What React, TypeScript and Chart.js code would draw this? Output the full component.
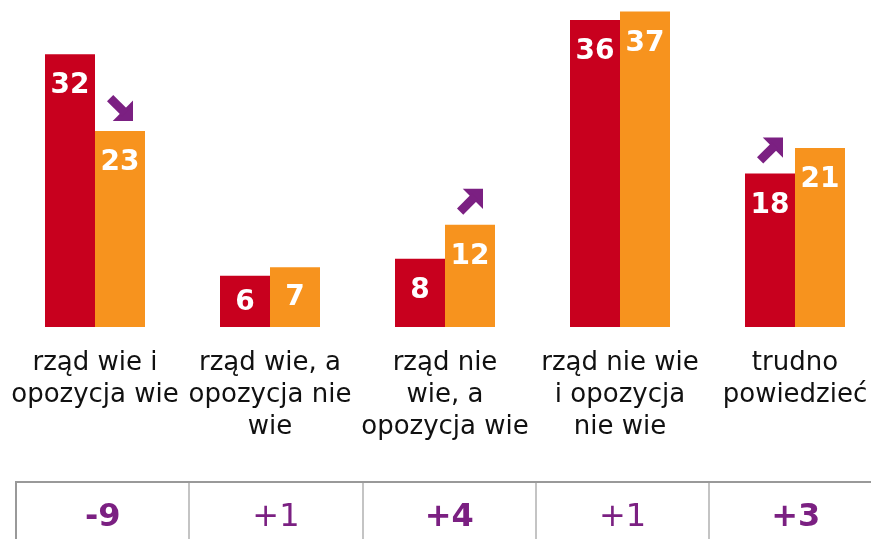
import React, { useEffect, useRef } from "react";
import { Chart, registerables } from "chart.js";

Chart.register(...registerables);

const categories: string[][] = [
  ["rząd wie i", "opozycja wie"],
  ["rząd wie, a", "opozycja nie", "wie"],
  ["rząd nie", "wie, a", "opozycja wie"],
  ["rząd nie wie", "i opozycja", "nie wie"],
  ["trudno", "powiedzieć"],
];
const previousValues = [32, 6, 8, 36, 18];
const currentValues = [23, 7, 12, 37, 21];
const arrowDirections: (string | null)[] = ["down", null, "up", null, "up"];
const arrowSeries: (number | null)[] = [1, null, 1, null, 0];
const differenceLabels = ["-9", "+1", "+4", "+1", "+3"];
const differenceBold = [true, false, true, false, true];

const RED = "#C8001E";
const ORANGE = "#F7931E";
const PURPLE = "#7B2082";
const FONT = "'DejaVu Sans', Verdana, sans-serif";

const valueLabelPlugin = {
  id: "valueLabels",
  afterDatasetsDraw(chart: any) {
    const ctx = chart.ctx;
    ctx.save();
    ctx.fillStyle = "#FFFFFF";
    ctx.font = `bold 28px ${FONT}`;
    ctx.textAlign = "center";
    ctx.textBaseline = "middle";
    chart.data.datasets.forEach((ds: any, di: number) => {
      const meta = chart.getDatasetMeta(di);
      meta.data.forEach((bar: any, i: number) => {
        const top = bar.y;
        const base = bar.base;
        const y = Math.min(top + 31, (top + base) / 2);
        ctx.fillText(String(ds.data[i]), bar.x, y + 1);
      });
    });
    ctx.restore();
  },
};

const arrowPlugin = {
  id: "trendArrows",
  afterDatasetsDraw(chart: any) {
    const ctx = chart.ctx;
    ctx.save();
    ctx.fillStyle = PURPLE;
    ctx.strokeStyle = PURPLE;
    arrowDirections.forEach((dir, i) => {
      const s = arrowSeries[i];
      if (!dir || s === null) return;
      const bar: any = chart.getDatasetMeta(s).data[i];
      const size = 26;
      const cx = bar.x;
      const bottom = bar.y - 10;
      const left = cx - size / 2;
      const top = bottom - size;
      const P = (u: number, v: number): [number, number] => {
        if (dir === "up") return [left + u * size, top + v * size];
        return [left + u * size, top + (1 - v) * size];
      };
      ctx.beginPath();
      let p = P(0.22, 0);
      ctx.moveTo(p[0], p[1]);
      p = P(1, 0);
      ctx.lineTo(p[0], p[1]);
      p = P(1, 0.78);
      ctx.lineTo(p[0], p[1]);
      ctx.closePath();
      ctx.fill();
      ctx.beginPath();
      ctx.lineWidth = size * 0.34;
      ctx.lineCap = "butt";
      p = P(0.12, 0.88);
      ctx.moveTo(p[0], p[1]);
      p = P(0.7, 0.3);
      ctx.lineTo(p[0], p[1]);
      ctx.stroke();
    });
    ctx.restore();
  },
};

export default function App() {
  const canvasRef = useRef<HTMLCanvasElement | null>(null);

  useEffect(() => {
    if (!canvasRef.current) return;
    const chart = new Chart(canvasRef.current, {
      type: "bar",
      data: {
        labels: categories,
        datasets: [
          {
            label: "poprzedni pomiar",
            data: previousValues,
            backgroundColor: RED,
            borderWidth: 0,
            categoryPercentage: 100 / 175,
            barPercentage: 1,
          },
          {
            label: "obecny pomiar",
            data: currentValues,
            backgroundColor: ORANGE,
            borderWidth: 0,
            categoryPercentage: 100 / 175,
            barPercentage: 1,
          },
        ],
      },
      options: {
        responsive: false,
        animation: false,
        layout: { padding: { left: 7.5, right: 17.5, top: 3, bottom: 0 } },
        plugins: {
          legend: { display: false },
          tooltip: { enabled: false },
          title: { display: false },
        },
        scales: {
          y: { display: false, min: 0, max: 38 },
          x: {
            grid: { display: false, drawTicks: false },
            border: { display: false },
            ticks: {
              color: "#111111",
              font: { family: FONT, size: 26, lineHeight: 1.24 },
              padding: 20,
              maxRotation: 0,
              minRotation: 0,
              autoSkip: false,
            },
            afterFit(scale: any) {
              scale.height = 212;
              scale.paddingLeft = 0;
              scale.paddingRight = 0;
            },
          },
        },
      },
      plugins: [valueLabelPlugin, arrowPlugin],
    });
    return () => chart.destroy();
  }, []);

  return (
    <div
      style={{
        position: "fixed",
        left: 0,
        top: 0,
        width: 871,
        height: 539,
        overflow: "hidden",
        background: "#fff",
      }}
    >
      <canvas
        ref={canvasRef}
        width={900}
        height={539}
        style={{ display: "block", position: "absolute", left: 0, top: 0 }}
      />
      <div
        style={{
          position: "absolute",
          left: 15,
          top: 481,
          width: 5 * 173.3,
          height: 70,
          borderTop: "2px solid #999",
          display: "flex",
        }}
      >
        {differenceLabels.map((t, i) => (
          <div
            key={i}
            style={{
              width: 173.3,
              height: 70,
              boxSizing: "border-box",
              borderLeft: i === 0 ? "2px solid #999" : "2px solid #c4c4c4",
              color: PURPLE,
              fontFamily: FONT,
              fontWeight: differenceBold[i] ? "bold" : "normal",
              fontSize: 32,
              textAlign: "center",
              lineHeight: "66px",
            }}
          >
            <div style={{ marginTop: -1 }}>{t}</div>
          </div>
        ))}
      </div>
    </div>
  );
}
